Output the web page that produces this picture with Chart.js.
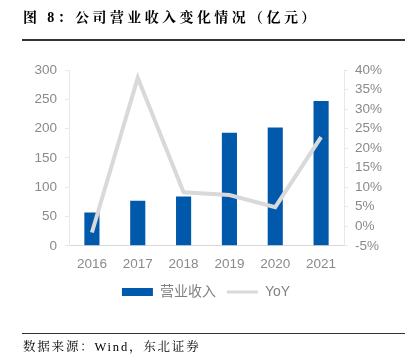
<!DOCTYPE html>
<html>
<head>
<meta charset="utf-8">
<script src="https://cdn.jsdelivr.net/npm/chart.js@4.4.1/dist/chart.umd.min.js"></script>
<style>
  body { margin: 0; background: #fff; }
  #wrap { position: relative; width: 412px; height: 360px; }
  #box { position: absolute; left: 0; top: 0; width: 412px; height: 360px; }
  .title { position: absolute; left: 23px; top: 6px; font: bold 14px "Liberation Serif", "Noto Serif CJK SC", "Noto Sans CJK SC"; letter-spacing: 3.4px; color: #000; white-space: nowrap; }
  .rule1 { position: absolute; left: 22px; top: 39px; width: 383px; height: 2px; background: #333; }
  .rule2 { position: absolute; left: 22px; top: 333px; width: 383px; height: 1px; background: #333; }
  .source { position: absolute; left: 23px; top: 337px; font: 12.5px "Liberation Serif", "Noto Serif CJK SC", "Noto Sans CJK SC"; letter-spacing: 1.8px; color: #000; white-space: nowrap; }
</style>
</head>
<body>
<div id="wrap">
  <div id="box"><canvas id="BarChart"></canvas></div>
  <div class="title">图 8：公司营业收入变化情况（亿元）</div>
  <div class="rule1"></div>
  <div class="rule2"></div>
  <div class="source">数据来源：Wind，东北证券</div>
</div>
<script>
const years = ['2016', '2017', '2018', '2019', '2020', '2021'];
const revenue = [57, 77, 84, 193, 202, 247];
const yoy = [-1.6, 38, 8.7, 8.0, 4.9, 22.8];
const leftTicks = [0, 50, 100, 150, 200, 250, 300];
const rightTicks = [-5, 0, 5, 10, 15, 20, 25, 30, 35, 40];

const tickFont = { family: 'Liberation Sans, Arial, sans-serif', size: 13.5 };
const faint = '#e8e8e8';

const ctx = document.getElementById('BarChart');

new Chart(ctx, {
  type: 'bar',
  data: {
    labels: years,
    datasets: [{
      label: '营业收入',
      data: revenue,
      backgroundColor: '#0059ab',
      barPercentage: 0.33,
      categoryPercentage: 1,
      yAxisID: 'y',
      order: 1
    }, {
      type: 'line',
      label: 'YoY',
      data: yoy,
      borderColor: '#d9d9d9',
      backgroundColor: '#d9d9d9',
      borderWidth: 4,
      pointRadius: 0,
      tension: 0,
      yAxisID: 'y1',
      order: 0
    }]
  },
  options: {
    responsive: true,
    maintainAspectRatio: false,
    animation: false,
    layout: { padding: { top: 70, bottom: 51, left: 0, right: 0 } },
    plugins: {
      tooltip: { enabled: false },
      legend: {
        position: 'bottom',
        labels: {
          color: '#808080',
          font: { family: 'Liberation Sans, "Noto Sans CJK SC", sans-serif', size: 14 },
          boxWidth: 31,
          boxHeight: 8,
          usePointStyle: true,
          pointStyleWidth: 31,
          padding: 11,
          generateLabels: function(chart) {
            const items = Chart.defaults.plugins.legend.labels.generateLabels(chart);
            items.sort(function(a, b) { return a.datasetIndex - b.datasetIndex; });
            items.forEach(function(it) {
              if (it.datasetIndex === 0) {
                it.pointStyle = 'rect';
                it.lineWidth = 0;
                it.fillStyle = '#0059ab';
              } else {
                it.pointStyle = 'line';
                it.lineWidth = 3;
                it.strokeStyle = '#d9d9d9';
              }
            });
            return items;
          }
        }
      }
    },
    scales: {
      x: {
        grid: { display: false },
        border: { display: true, color: '#d9d9d9', width: 1 },
        ticks: { color: '#8a8a8a', font: tickFont, padding: 2 }
      },
      y: {
        position: 'left',
        min: 0,
        max: 300,
        afterBuildTicks: function(scale) { scale.ticks = leftTicks.map(function(v) { return { value: v }; }); },
        afterFit: function(scale) { scale.width = 69; },
        grid: { drawOnChartArea: false, drawTicks: true, tickLength: 4, color: faint },
        border: { display: true, color: faint },
        ticks: { color: '#8a8a8a', font: tickFont, padding: 8, autoSkip: false }
      },
      y1: {
        position: 'right',
        min: -5,
        max: 40,
        afterBuildTicks: function(scale) { scale.ticks = rightTicks.map(function(v) { return { value: v }; }); },
        afterFit: function(scale) { scale.width = 68; },
        grid: { drawOnChartArea: false, drawTicks: true, tickLength: 4, color: faint },
        border: { display: true, color: faint },
        ticks: {
          color: '#8a8a8a',
          font: tickFont,
          padding: 7,
          autoSkip: false,
          callback: function(v) { return v + '%'; }
        }
      }
    }
  }
});
</script>
</body>
</html>
